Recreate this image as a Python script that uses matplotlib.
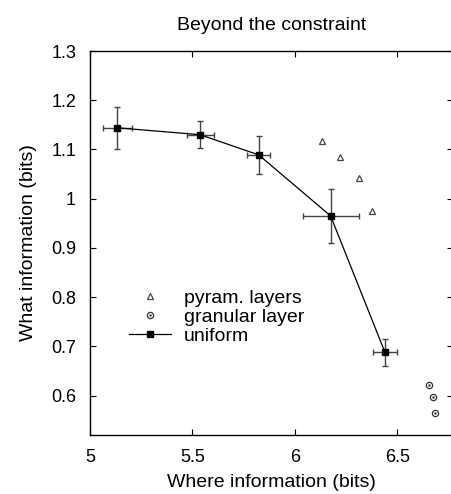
"""Where vs. what information, beyond the constraint."""

import matplotlib
matplotlib.use("Agg")
from matplotlib import pyplot as plt
from matplotlib.ticker import FormatStrFormatter

plt.rcParams['font.family'] = ['Liberation Sans', 'DejaVu Sans']

# uniform condition, with error bars
uniform_where = [5.133, 5.537, 5.823, 6.174, 6.439]
uniform_what = [1.144, 1.130, 1.089, 0.965, 0.688]
uniform_where_err = [0.070, 0.066, 0.055, 0.137, 0.057]
uniform_what_err = [0.043, 0.027, 0.039, 0.055, 0.027]

# pyramidal layers
pyram_where = [6.133, 6.220, 6.314, 6.376]
pyram_what = [1.118, 1.084, 1.043, 0.976]

# granular layer
gran_where = [6.655, 6.672, 6.685]
gran_what = [0.621, 0.598, 0.565]

x_ticks = [5, 5.5, 6, 6.5]
y_ticks = [0.6, 0.7, 0.8, 0.9, 1.0, 1.1, 1.2, 1.3]

W, H = 452, 494
fig = plt.figure(figsize=(W / 100, H / 100), dpi=100)
ax = fig.add_axes([90 / W, 1 - 435 / H, 363 / W, (435 - 51) / H])

tri, = ax.plot(pyram_where, pyram_what, linestyle='none', marker='^', markersize=4.5,
               markerfacecolor='white', markeredgecolor='#444444', markeredgewidth=0.9)

circ, = ax.plot(gran_where, gran_what, linestyle='none', marker='o', markersize=4.5,
                markerfacecolor='white', markeredgecolor='#333333', markeredgewidth=0.9)
dot, = ax.plot(gran_where, gran_what, linestyle='none', marker='.', markersize=1.5,
               color='#333333')

ax.errorbar(uniform_where, uniform_what, xerr=uniform_where_err, yerr=uniform_what_err,
            fmt='none', ecolor='#444444', elinewidth=1.0, capsize=2.2, capthick=1.0)
uni, = ax.plot(uniform_where, uniform_what, color='black', linewidth=0.9, marker='s',
               markersize=5, markerfacecolor='black', markeredgecolor='black')

ax.set_xlim(5.0, 6.771)
ax.set_ylim(0.52, 1.3)
ax.set_xticks(x_ticks)
ax.set_yticks(y_ticks)
ax.xaxis.set_major_formatter(FormatStrFormatter('%g'))
ax.yaxis.set_major_formatter(FormatStrFormatter('%g'))
ax.tick_params(direction='in', length=4, width=0.8, labelsize=13,
               top=True, right=True, pad=10)
for spine in ax.spines.values():
    spine.set_linewidth(1.0)

ax.legend([tri, (circ, dot), uni], ["pyram. layers", "granular layer", "uniform"],
          loc='upper left', bbox_to_anchor=(0.107, 0.38), frameon=False,
          fontsize=14, handlelength=2.16, handletextpad=0.67, labelspacing=0.08,
          borderpad=0, borderaxespad=0)

ax.set_title("Beyond the constraint", fontsize=14, pad=15)
ax.set_xlabel("Where information (bits)", fontsize=14, labelpad=6)
ax.set_ylabel("What information (bits)", fontsize=14, labelpad=10)

plt.savefig("out.png", dpi=100)
